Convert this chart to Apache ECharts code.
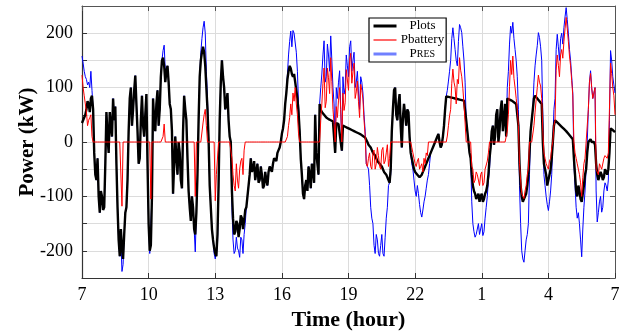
<!DOCTYPE html>
<html>
<head>
<meta charset="utf-8">
<script src="https://cdn.jsdelivr.net/npm/echarts@6/dist/echarts.min.js"></script>
<style>
html,body{margin:0;padding:0;background:#fff;}
#chart{width:634px;height:336px;}
</style>
</head>
<body>
<div id="chart"></div>
<script>
// One reading every 0.05 hour (3 min), offset 0 = 7:00, offset 24 = 7:00 next day
const stepHours = 0.05;
const xTickLabels = ['7','10','13','16','19','22','1','4','7'];
const yTickLabels = {'200':'200','100':'100','0':'0','-100':'-100','-200':'-200'};
const seriesNames = ['Plots','Pbattery','PRES'];

// Plots (kW) – black
const plots = [
35,40, 45,50, 60,75, 70,55, 80,85, 60,-20, -60,-70, -30,-100, -130,-90, -100,-125,
-120,-40, 55,10, -20,55, 30,10, 80,40, 65,-40, -120,-180, -210,-160, -195,-215, -170,-130,
-120,-70, 20,80, 100,30, 60,95, 122,70, 20,-40, -30,40, 85,30, 10,50, 88,-40,
-150,-200, -190,-100, 80,40, 20,70, 95,30, 60,120, 150,155, 140,110, 130,140, 110,70,
60,20, -95,-40, 10,-30, -60,0, -20,-70, -85,20, 85,60, 40,-30, -90,-120, -145,-100,
-120,-160, -170,-130, -60,40, 120,150, 165,175, 165,140, 100,60, 5,-80, -120,-160, -180,-195,
-205,-210, -170,-80, 40,110, 150,120, 100,60, 70,90, 40,10, 0,-90, -140,-170, -165,-145,
-150,-175, -160,-135, -140,-160, -145,-125, -120,-100, -80,-60, -30,-55, -50,-35, -70,-55, -40,-75,
-70,-45, -60,-85, -80,-55, -70,-80, -55,-45, -50,-55, -40,-30, -30,-35, -20,-15, -10,0,
15,25, 40,70, 90,115, 130,140, 135,125, 120,125, 110,95, 80,55, 20,-30, -60,-95,
-105,-80, -70,-90, -45,-60, -85,-40, -50,-75, 50,-20, -40,-60, 70,60, 55,52, 50,47,
45,44, 42,41, 40,39, 38,36, -20,35, 34,33, 32,0, -16,30, 29,28, 27,26,
25,24, 23,22, 21,20, 19,18, 17,16, 15,14, 13,11, 10,8, 5,0, -5,-8,
-10,-15, -20,-22, -25,-30, -35,-38, -40,-42, -45,-50, -55,-58, -60,-65, -70,-75, -50,20,
60,95, 100,50, 40,70, 88,30, -10,45, 70,50, 30,60, 55,10, -20,-30, -40,-50,
-55,-58, -60,-62, -65,-68, -60,-55, -50,-45, -40,-35, -30,-25, -20,-15, -10,-5, 0,5,
10,15, 0,-10, -5,10, 30,60, 84,84, 83,82.5, 82,81.5, 81,80.5, 80,79.5, 79,78.5,
78,77.5, 77,76.5, 76,75, 40,20, 0,-20, -30,-60, -80,-90, -95,-105, -100,-95, -110,-100,
-95,-110, -105,-95, -90,-80, -60,-30, -10,20, 30,-5, 10,50, 60,0, 20,60, 76,20,
40,70, 10,80, 79,78, 77,76, 75,73, 72,70, 68,30, -40,-80, -100,-110, -105,-100,
-95,-80, -60,-20, 20,40, 60,80, 85,82, 80,78, 75,72, 70,0, -40,-50, -60,-80,
-80,-60, -50,-30, 0,30, 40,38, 36,34, 32,30, 28,26, 24,22, 20,17, 15,12,
10,7, 5,-30, -60,-90, -100,-80, -90,-105, -110,-95, -80,-60, -50,-20, 0,0, 5,0,
0,0, -5,-40, -60,-70, -70,-55, -60,-70, -65,-50, -55,-60, -50,-20, 25,24, 22,20,
18];

// Pbattery (kW) – red
const pbattery = [
123,100, 85,70, 55,30, 40,45, 50,10, 0,0, 0,0, 0,0, 0,0, 0,0,
0,0, 0,0, 0,0, 0,0, 0,0, 0,0, 0,0, 0,0, -118,0, 0,0,
0,0, 0,0, 0,0, 0,0, 0,0, 0,0, 0,0, 0,0, 0,0, 0,0,
0,0, -105,0, 0,0, 0,0, 0,0, 0,0, 0,10, 33,0, 0,0, 0,0,
0,0, 0,0, 0,0, 0,0, 0,0, 0,0, 0,0, 0,0, 0,0, 0,0,
0,0, -100,0, 0,0, 0,0, 0,35, 50,60, 30,0, 0,0, 0,0, 0,0,
-108,-60, -60,0, 0,0, 0,0, 0,0, 0,0, 0,0, 0,-30, -60,-80, -90,-40,
-70,-85, -50,-35, -30,-60, -15,0, 0,0, 0,0, 0,0, 0,0, 0,0, 0,0,
0,0, 0,0, 0,0, 0,0, 0,0, 0,0, 0,0, 0,0, 0,0, 0,0,
0,0, 0,0, 0,10, 30,45, 70,50, 90,75, 100,70, 50,15, 0,0, 0,0,
0,0, 0,0, 0,0, 0,0, 0,0, 0,0, 0,0, 0,40, 70,108, 136,63,
75,136, 118,89, 155,111, 60,34, 0,65, 45,77, 100,60, 0,90, 58,72, 133,114,
95,151, 163,108, 129,145, 80,92, 112,74, 45,106, 95,79, 40,12, -40,-45, -30,-20,
-45,-50, -20,-15, -50,-40, -10,-25, -45,-50, -15,-10, -40,-35, -20,-5, -45,-30, 0,0,
0,0, 0,0, 0,0, 0,0, 0,0, 0,0, 0,0, 0,0, 0,-10, -20,-30,
-40,-45, -35,-30, -50,-45, -40,-55, -30,-40, -20,-25, 0,0, 0,0, 0,0, 0,0,
0,0, 0,0, 0,0, 0,0, 0,11, 30,48, 60,108, 134,110, 100,70, 115,107,
155,132, 120,98, 70,35, 0,0, 0,0, 0,-45, -50,-75, -70,-55, -60,-70, -80,-60,
-55,-80, -75,-50, -50,-35, -20,0, 0,0, 0,0, 0,0, 0,0, 0,0, 0,0,
0,0, 0,20, 50,102, 150,124, 158,117, 100,80, 60,30, -40,-70, -95,-100, -104,-90,
-80,-60, -50,0, 0,0, 0,30, 55,78, 100,123, 110,103, 80,20, -20,-30, -40,-45,
-50,-35, -30,-10, 0,30, 40,132, 160,141, 120,160, 170,154, 185,208, 229,208, 185,158,
140,113, 85,0, -20,-30, -40,-50, -60,-75, -100,-65, -40,-30, 0,0, 60,110, 126,100,
80,90, 100,-50, -50,-60, -40,-45, -50,-50, -30,-25, -25,-30, -20,60, 145,126, 100,85,
50];

// PRES (kW) – blue
const pres = [
158,145, 130,120, 115,105, 110,100, 130,95, 60,-20, -60,-70, -30,-100, -130,-90, -100,-125,
-120,-40, 55,10, -20,55, 30,10, 80,40, 65,-40, -120,-180, -210,-180, -238,-225, -170,-130,
-120,-70, 20,80, 100,30, 60,95, 122,70, 20,-40, -30,40, 85,30, 10,50, 88,-40,
-150,-205, -208,-100, 80,40, 20,70, 95,30, 60,120, 150,168, 178,130, 130,140, 110,70,
60,20, -95,-40, 10,-30, -60,0, -20,-70, -85,20, 85,60, 40,-30, -90,-120, -145,-100,
-120,-160, -202,-130, -60,40, 120,165, 190,210, 222,200, 130,80, 5,-80, -120,-160, -180,-205,
-215,-214, -190,-80, 40,110, 150,120, 100,60, 70,90, 40,10, 0,-120, -180,-205, -200,-175,
-195,-200, -212,-175, -180,-205, -170,-150, -120,-100, -80,-60, -30,-55, -50,-35, -70,-55, -40,-75,
-70,-45, -60,-85, -80,-55, -70,-80, -55,-45, -50,-55, -40,-30, -30,-35, -20,-15, -10,0,
15,25, 40,70, 90,125, 160,185, 204,175, 205,200, 200,165, 130,70, 20,-30, -60,-95,
-105,-80, -70,-90, -45,-60, -85,-40, -50,-75, 50,-20, -40,-60, 70,100, 125,160, 186,110,
120,180, 160,130, 195,150, 100,70, -20,100, 80,110, 131,60, -16,120, 88,100, 160,140,
120,175, 186,130, 150,165, 100,110, 130,90, 60,120, 110,90, 50,20, -40,-45, -50,-80,
-120,-140, -150,-190, -205,-170, -180,-205, -210,-190, -170,-205, -210,-175, -140,-120, -80,-75, -60,20,
60,95, 100,50, 40,70, 88,30, -10,45, 70,50, 30,60, 55,10, -20,-40, -50,-70,
-90,-100, -80,-95, -115,-130, -138,-125, -110,-100, -85,-70, -60,-40, -20,-15, -10,-5, 0,5,
10,15, 0,-10, -5,10, 30,60, 84,95, 112,130, 150,190, 210,190, 170,150, 140,185,
216,210, 201,175, 150,110, 40,20, 0,-20, -30,-110, -150,-165, -175,-170, -160,-150, -170,-160,
-150,-172, -165,-140, -120,-100, -70,-50, -10,20, 30,-5, 10,50, 60,0, 20,60, 76,20,
40,70, 10,100, 130,180, 213,200, 220,190, 170,150, 120,60, -80,-150, -200,-215, -221,-200,
-180,-170, -150,-60, 20,40, 60,110, 140,160, 177,201, 192,175, 150,50, -60,-80, -100,-115,
-126,-110, -90,-60, 0,60, 80,170, 198,175, 150,190, 200,180, 210,230, 247,225, 200,170,
150,120, 90,-40, -80,-120, -140,-130, -150,-180, -211,-160, -120,-90, -50,0, 60,110, 131,100,
80,90, 100,-90, -147,-130, -110,-100, -129,-120, -90,-75, -80,-90, -70,40, 168,150, 120,105,
90];

function toPairs(arr){ return arr.map((v,i)=>[Math.round(i*stepHours*1000)/1000, v]); }

const serif = "'Liberation Serif','DejaVu Serif','Times New Roman',serif";
const chart = echarts.init(document.getElementById('chart'), null, {renderer:'canvas'});

const gridLineColor = '#dcdcdc';
const boxColor = '#555';

chart.setOption({
  animation:false,
  backgroundColor:'#fff',
  grid:{left:82,right:19,top:6,bottom:57,containLabel:false},
  legend:{
    orient:'vertical', left:369, top:18,
    data:[
      {name:seriesNames[0], lineStyle:{width:3,color:'#000'}, itemStyle:{opacity:0}},
      {name:seriesNames[1], lineStyle:{width:1.2,color:'#ff0000'}, itemStyle:{opacity:0}},
      {name:seriesNames[2], lineStyle:{width:3,color:'#7080ff'}, itemStyle:{opacity:0}}
    ],
    backgroundColor:'#fff', borderColor:'#000', borderWidth:1.2,
    padding:[1,2,1,3], itemGap:0, itemWidth:23, itemHeight:14,
    textStyle:{fontFamily:serif,fontSize:13,color:'#000',lineHeight:14,
      rich:{
        c:{fontFamily:serif,fontSize:13,color:'#000',width:42,align:'center'},
        sp:{width:8},
        p:{fontFamily:serif,fontSize:13,color:'#000'},
        s:{fontFamily:serif,fontSize:10,color:'#000'}
      }},
    formatter:function(n){ return n==='PRES' ? '{sp|}{p|P}{s|RES}' : '{c|'+n+'}'; }
  },
  xAxis:[{
    type:'value', min:0, max:24, interval:3, position:'bottom',
    axisLine:{show:true,onZero:false,lineStyle:{color:'#333',width:1.2}},
    axisTick:{show:true,inside:true,length:5,lineStyle:{color:'#333'}},
    axisLabel:{fontFamily:serif,fontSize:18,color:'#000',margin:8,
      formatter:function(v){ return xTickLabels[Math.round(v/3)]; }},
    splitLine:{show:true,lineStyle:{color:gridLineColor,width:1}},
    name:'Time (hour)', nameLocation:'middle', nameGap:31, nameMoveOverlap:false,
    nameTextStyle:{fontFamily:serif,fontSize:22,fontWeight:'bold',color:'#000'}
  },{
    type:'value', min:0, max:24, interval:3, position:'top',
    axisLine:{show:true,onZero:false,lineStyle:{color:boxColor,width:1}},
    axisTick:{show:true,inside:true,length:5,lineStyle:{color:boxColor}},
    axisLabel:{show:false}, splitLine:{show:false}
  }],
  yAxis:[{
    type:'value', min:-250, max:250, interval:50, position:'left',
    axisLine:{show:true,onZero:false,lineStyle:{color:'#333',width:1.2}},
    axisTick:{show:true,inside:true,length:5,lineStyle:{color:'#333'}},
    axisLabel:{fontFamily:serif,fontSize:18,color:'#000',margin:9,showMinLabel:false,showMaxLabel:false,
      formatter:function(v){ const k=String(Math.round(v)); return yTickLabels[k]!==undefined ? yTickLabels[k] : ''; }},
    splitLine:{show:true,lineStyle:{color:gridLineColor,width:1}},
    name:'Power (kW)', nameLocation:'middle', nameGap:44, nameMoveOverlap:false,
    nameTextStyle:{fontFamily:serif,fontSize:21,fontWeight:'bold',color:'#000'}
  },{
    type:'value', min:-250, max:250, interval:50, position:'right',
    axisLine:{show:true,onZero:false,lineStyle:{color:boxColor,width:1}},
    axisTick:{show:true,inside:true,length:5,lineStyle:{color:boxColor}},
    axisLabel:{show:false}, splitLine:{show:false}
  }],
  series:[
    {name:'PRES', type:'line', data:toPairs(pres), symbol:'none', showSymbol:false,
      lineStyle:{color:'#0000ff',width:1}, itemStyle:{color:'#0000ff'}, z:2},
    {name:'Plots', type:'line', data:toPairs(plots), symbol:'none', showSymbol:false,
      lineStyle:{color:'#000000',width:2.4}, itemStyle:{color:'#000000'}, z:3},
    {name:'Pbattery', type:'line', data:toPairs(pbattery), symbol:'none', showSymbol:false,
      lineStyle:{color:'#ff0000',width:1}, itemStyle:{color:'#ff0000'}, z:4}
  ]
});
</script>
</body>
</html>
